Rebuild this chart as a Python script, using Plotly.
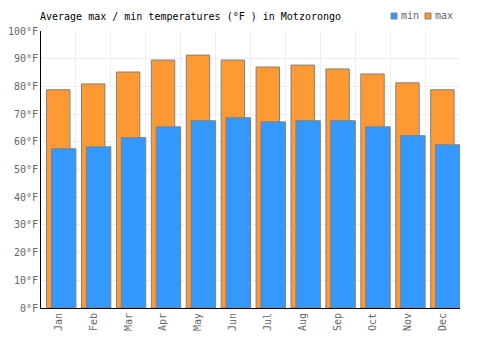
import plotly.graph_objects as go

months = ["Jan", "Feb", "Mar", "Apr", "May", "Jun", "Jul", "Aug", "Sep", "Oct", "Nov", "Dec"]
max_temp = [78.8, 80.9, 85.2, 89.5, 91.3, 89.5, 87.0, 87.7, 86.3, 84.5, 81.3, 78.8]
min_temp = [57.5, 58.2, 61.5, 65.4, 67.6, 68.7, 67.2, 67.6, 67.6, 65.4, 62.2, 58.9]
y_ticks = list(range(0, 101, 10))
y_labels = [f"{v}°F" for v in y_ticks]

font_family = "DejaVu Sans Mono"
MAX_COLOR = "#ff9933"
MIN_COLOR = "#3399ff"
EDGE = "#808080"

fig = go.Figure()
fig.add_trace(go.Bar(
    x=months, y=max_temp, name="max",
    marker=dict(color=MAX_COLOR, line=dict(color=EDGE, width=1)),
    width=0.67, offset=-0.34,
    hovertemplate="%{x}: %{y}°F<extra>max</extra>",
))
fig.add_trace(go.Bar(
    x=months, y=min_temp, name="min",
    marker=dict(color=MIN_COLOR, line=dict(color=EDGE, width=1)),
    width=0.70, offset=-0.2,
    hovertemplate="%{x}: %{y}°F<extra>min</extra>",
))

# compact legend (drawn in paper coordinates)
W, H = 500, 350
legend_items = [("min", MIN_COLOR, 391), ("max", MAX_COLOR, 425)]
shapes = []
annotations = []
for label, color, px in legend_items:
    shapes.append(dict(type="rect", xref="paper", yref="paper",
                       x0=(px - 41) / 419, x1=(px - 41 + 6) / 419,
                       y0=(308 - 19) / 277, y1=(308 - 13) / 277,
                       fillcolor=color, line=dict(color=EDGE, width=1)))
    annotations.append(dict(text=label, xref="paper", yref="paper",
                            x=(px - 41 + 8) / 419, y=(308 - 16) / 277,
                            xanchor="left", yanchor="middle", showarrow=False,
                            font=dict(family=font_family, size=10, color="#666666")))

fig.update_layout(
    width=W, height=H,
    margin=dict(l=41, r=40, t=31, b=42, autoexpand=False),
    barmode="overlay",
    paper_bgcolor="white", plot_bgcolor="white",
    font=dict(family=font_family, size=10, color="#666666"),
    title=dict(text="Average max / min temperatures (°F ) in Motzorongo",
               x=40 / W, xanchor="left", y=1 - 16 / H, yanchor="middle",
               font=dict(family=font_family, size=10, color="#000000")),
    showlegend=False,
    shapes=shapes,
    annotations=annotations,
    xaxis=dict(type="category", tickson="boundaries", showgrid=True, gridcolor="#eeeeee",
               tickangle=-90, showline=True, linecolor="#000000", linewidth=1,
               ticks="", range=[-0.5, 11.5], fixedrange=True),
    yaxis=dict(range=[0, 100], tickvals=y_ticks, ticktext=y_labels, showgrid=True,
               gridcolor="#eeeeee", showline=True, linecolor="#000000", linewidth=1,
               zeroline=False, ticks="", fixedrange=True),
)

fig.write_html("out.html")
